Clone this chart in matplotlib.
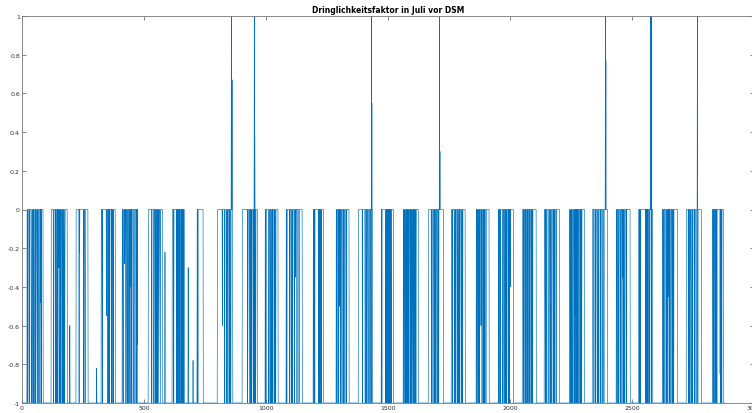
import numpy as np
import matplotlib.pyplot as plt

# Dringlichkeitsfaktor, Viertelstundenwerte Juli (vor DSM)
n_samples = 2880

# Beginn der Tagesbloecke (Index), Wert zwischen den Bloecken ist -1
block_start = [20, 119, 221, 324, 410, 517, 615, 717, 800, 902,
               996, 1082, 1193, 1287, 1378, 1472, 1562, 1665, 1759, 1861,
               1952, 2050, 2140, 2243, 2337, 2435, 2526, 2624, 2722, 2829]

# Laufzeiten je Block: positiv = Wert 0, negativ = Wert -1
block_runs = [
    [3, -2, 5, -1, 6, -3, 4, -1, 3, -2, 5, -1, 4, -2, 3, -1, 6, -2, 4, -1, 7],
    [9, -2, 6, -1, 4, -2, 3, -1, 5, -3, 3, -1, 4, -2, 3, -1, 5, -2, 9],
    [12, -1, 18, -1, 4, -2, 11],
    [4, -1, 22, -1, 3, -1, 2, -1, 6, -1, 2, -1, 4, -1, 8],
    [3, -2, 10, -1, 4, -2, 5, -1, 3, -3, 4, -1, 5, -2, 6, -1, 5, -1, 4],
    [14, -1, 7, -2, 4, -1, 3, -2, 4, -1, 3, -1, 5, -2, 9],
    [6, -1, 10, -1, 3, -1, 2, -1, 4, -1, 2, -1, 5, -1, 3, -1, 2, -1, 4],
    [3, -1, 21],
    [30, -1, 6, -2, 4, -1, 5, -1, 4, -2, 7],
    [22, -1, 5, -2, 4, -1, 3, -2, 5, -1, 4, -1, 3, -2, 7],
    [3, -1, 10, -2, 4, -1, 5, -2, 3, -1, 5, -1, 4, -2, 9],
    [2, -2, 10, -1, 5, -2, 4, -1, 6, -2, 3, -1, 5, -1, 7, -2, 12],
    [3, -1, 2, -1, 14, -1, 3, -1, 2, -1, 4, -1, 8],
    [3, -1, 5, -2, 7, -1, 4, -2, 5, -1, 4, -2, 5, -1, 10],
    [16, -1, 10, -2, 5, -1, 4, -2, 6, -1, 4, -1, 5],
    [2, -1, 14, -1, 3, -1, 2, -1, 5, -1, 2, -1, 3, -1, 2, -1, 9],
    [3, -1, 4, -2, 3, -1, 4, -1, 3, -2, 4, -1, 3, -1, 4, -2, 3, -1, 4, -1, 3, -2, 9],
    [12, -1, 5, -2, 4, -1, 5, -1, 4, -2, 5, -1, 4, -1, 14],
    [4, -1, 7, -2, 4, -1, 5, -2, 4, -1, 3, -1, 5, -2, 4, -1, 10],
    [3, -1, 4, -2, 3, -1, 5, -1, 3, -2, 4, -1, 3, -1, 5, -2, 12],
    [2, -1, 4, -1, 9, -2, 4, -1, 5, -1, 3, -2, 5, -1, 4, -1, 16],
    [5, -1, 4, -2, 3, -1, 5, -1, 4, -2, 3, -1, 5, -1, 4, -1, 14],
    [4, -1, 5, -1, 7, -2, 4, -1, 5, -2, 5, -1, 4, -1, 5, -1, 13],
    [3, -1, 4, -1, 4, -2, 4, -1, 3, -1, 5, -2, 3, -1, 4, -1, 5, -1, 4, -1, 11],
    [6, -1, 6, -1, 5, -2, 5, -1, 6, -1, 5, -2, 6, -1, 5, -1, 8],
    [3, -1, 6, -1, 5, -2, 5, -1, 5, -1, 4, -2, 5, -1, 15],
    [4, -1, 3, -1, 20, -1, 2, -1, 3, -1, 2, -1, 6, -1, 2, -1, 3, -1, 4],
    [3, -1, 6, -1, 5, -2, 4, -1, 5, -1, 5, -2, 4, -1, 5, -1, 15],
    [8, -1, 5, -1, 4, -2, 5, -1, 6, -1, 5, -2, 6, -1, 14],
    [3, -1, 2, -1, 4, -1, 3, -1, 2, -1, 14, -1, 4, -1, 7],
]

# Einzelwerte zwischen -1 und 0
mid_idx = [24, 60, 75, 150, 175, 195, 235, 305, 345, 420, 445, 470, 560, 565,
           585, 640, 680, 700, 820, 930, 1120, 1300, 1490, 1600, 1790, 1880,
           2000, 2160, 2270, 2460, 2650, 2740, 2860]
mid_val = [-0.73, -0.55, -0.48, -0.3, -0.2, -0.6, -0.22, -0.82, -0.55, -0.28,
           -0.4, -0.7, -0.4, -0.5, -0.22, -0.15, -0.3, -0.78, -0.6, -0.42,
           -0.35, -0.5, -0.25, -0.45, -0.3, -0.6, -0.4, -0.2, -0.55, -0.35,
           -0.45, -0.3, -0.85]

# positive Ausreisser
spike_idx = [857, 860, 951, 953, 1431, 1433, 1710, 1712, 2390, 2392, 2575, 2578, 2767]
spike_val = [1.0, 0.67, 1.0, 0.38, 1.0, 0.55, 1.0, 0.3, 1.0, 0.77, 1.0, 1.0, 1.0]

# --- Zeitreihe zusammensetzen ---
y = np.full(n_samples, -1.0)
for start, runs in zip(block_start, block_runs):
    pos = start
    for r in runs:
        y[pos:pos + abs(r)] = 0.0 if r > 0 else -1.0
        pos += abs(r)
y[mid_idx] = mid_val
y[spike_idx] = spike_val
x = np.arange(1, n_samples + 1)

# --- Plot ---
fig = plt.figure(figsize=(7.52, 4.14), dpi=100)
ax = fig.add_axes([22 / 752, 10 / 414, 732 / 752, 387 / 414])
ax.plot(x, y, color='#0072BD', linewidth=0.45)

ax.set_xlim(0, 3000)
ax.set_ylim(-1, 1)
ax.set_xticks(np.arange(0, 3001, 500))
ax.set_yticks(np.round(np.arange(-1, 1.01, 0.2), 1))
ax.set_yticklabels(['-1', '-0.8', '-0.6', '-0.4', '-0.2', '0', '0.2', '0.4', '0.6', '0.8', '1'])
ax.tick_params(direction='in', top=True, right=True, length=3, width=0.5,
               labelsize=4.5, colors='#555555', labelcolor='#333333', pad=1.5)
for s in ax.spines.values():
    s.set_color('#777777')
    s.set_linewidth(0.6)
ax.set_title('Dringlichkeitsfaktor in Juli vor DSM', fontsize=5.5, fontweight='bold', pad=3)

fig.savefig('out.png', dpi=100)
